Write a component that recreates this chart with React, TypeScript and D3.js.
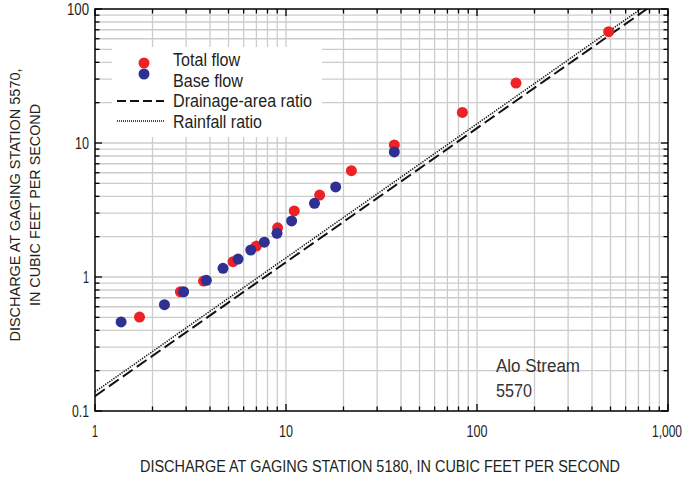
import { scaleLog, line as d3_line } from "d3";

// discharge at station 5180 (x) vs station 5570 (y), cubic feet per second
const totalFlowX = [1.71, 2.8, 3.7, 5.28, 6.99, 9.04, 11.05, 15.0, 22.0, 36.9, 83.8, 160, 489];
const totalFlowY = [0.502, 0.776, 0.933, 1.3, 1.7, 2.33, 3.11, 4.09, 6.21, 9.66, 16.9, 28.0, 67.7];
const baseFlowX = [1.37, 2.31, 2.91, 3.83, 4.68, 5.61, 6.54, 7.7, 8.97, 10.7, 14.1, 18.2, 36.9];
const baseFlowY = [0.462, 0.621, 0.776, 0.945, 1.16, 1.36, 1.59, 1.82, 2.12, 2.62, 3.55, 4.7, 8.57];

const drainageAreaRatio = 0.129;
const rainfallRatio = 0.139;

const xTickValues = [1, 10, 100, 1000];
const xTickLabels = ["1", "10", "100", "1,000"];
const yTickValues = [0.1, 1, 10, 100];
const yTickLabels = ["0.1", "1", "10", "100"];
const legendLabels = ["Total flow", "Base flow", "Drainage-area ratio", "Rainfall ratio"];

const FONT = "'Liberation Sans', Arial, sans-serif";
const RED = "#ec2227";
const BLUE = "#2e3192";
const GRID = "#cccccc";
const INK = "#231f20";

// the source uses a condensed face; squeeze the regular one to the widths
const legendWidths = [67, 70, 139, 89];
const xLabelWidths = [6, 14, 21, 30];
const yLabelWidths = [17, 6, 14, 22];

export default function App() {
  const width = 685;
  const height = 482;
  const m = { left: 95, right: 668, top: 9, bottom: 411 };

  const x = scaleLog().domain([1, 1000]).range([m.left, m.right]);
  const y = scaleLog().domain([0.1, 100]).range([m.bottom, m.top]);

  const isMajor = (v: number) => Math.abs(Math.log10(v) - Math.round(Math.log10(v))) < 1e-9;
  const xTicks = x.ticks();
  const yTicks = y.ticks();

  const ratioLine = (k: number) =>
    d3_line<number>()
      .x((d) => x(d))
      .y((d) => y(d * k))([1, 1000]) ?? "";

  const totalFlow = totalFlowX.map((v, i) => [v, totalFlowY[i]]);
  const baseFlow = baseFlowX.map((v, i) => [v, baseFlowY[i]]);

  return (
    <svg
      width={width}
      height={height}
      style={{ position: "absolute", left: 0, top: 0, background: "#fff" }}
      fontFamily={FONT}
    >
      <defs>
        <clipPath id="plot">
          <rect x={m.left} y={m.top} width={m.right - m.left} height={m.bottom - m.top} />
        </clipPath>
      </defs>

      {/* grid */}
      {xTicks
        .filter((t) => t > 1 && t < 1000)
        .map((t, i) => (
          <line key={"gx" + i} x1={x(t)} x2={x(t)} y1={m.top} y2={m.bottom} stroke={GRID} strokeWidth={1.3} />
        ))}
      {yTicks
        .filter((t) => t > 0.1 && t < 100)
        .map((t, i) => (
          <line key={"gy" + i} x1={m.left} x2={m.right} y1={y(t)} y2={y(t)} stroke={GRID} strokeWidth={1.3} />
        ))}

      {/* legend box */}
      <rect x={112} y={47} width={210} height={90} fill="#fff" />

      {/* ratio lines */}
      <g clipPath="url(#plot)">
        <path d={ratioLine(drainageAreaRatio)} fill="none" stroke="#111" strokeWidth={2} strokeDasharray="12,5" />
        <path d={ratioLine(rainfallRatio)} fill="none" stroke="#111" strokeWidth={1.5} strokeDasharray="1.3,1.2" />
      </g>

      {/* points */}
      {totalFlow.map(([a, b], i) => (
        <circle key={"t" + i} cx={x(a)} cy={y(b)} r={5.5} fill={RED} />
      ))}
      {baseFlow.map(([a, b], i) => (
        <circle key={"b" + i} cx={x(a)} cy={y(b)} r={5.5} fill={BLUE} />
      ))}

      {/* ticks, inward on all four sides */}
      {xTicks.map((t, i) => {
        const len = isMajor(t) ? 7 : 4.5;
        return (
          <g key={"tx" + i} stroke="#000" strokeWidth={1.3}>
            <line x1={x(t)} x2={x(t)} y1={m.bottom} y2={m.bottom - len} />
            <line x1={x(t)} x2={x(t)} y1={m.top} y2={m.top + len} />
          </g>
        );
      })}
      {yTicks.map((t, i) => {
        const len = isMajor(t) ? 7 : 4.5;
        return (
          <g key={"ty" + i} stroke="#000" strokeWidth={1.3}>
            <line x1={m.left} x2={m.left + len} y1={y(t)} y2={y(t)} />
            <line x1={m.right} x2={m.right - len} y1={y(t)} y2={y(t)} />
          </g>
        );
      })}
      <rect
        x={m.left}
        y={m.top}
        width={m.right - m.left}
        height={m.bottom - m.top}
        fill="none"
        stroke="#000"
        strokeWidth={1.5}
      />

      {/* tick labels */}
      {xTickValues.map((t, i) => (
        <text
          key={"lx" + i}
          x={i === 3 ? x(t) - 1 : x(t)}
          y={437}
          textAnchor="middle"
          fontSize={16.5}
          fill={INK}
          textLength={xLabelWidths[i]}
          lengthAdjust="spacingAndGlyphs"
        >
          {xTickLabels[i]}
        </text>
      ))}
      {yTickValues.map((t, i) => (
        <text
          key={"ly" + i}
          x={89}
          y={y(t)}
          dy="0.36em"
          textAnchor="end"
          fontSize={16.5}
          fill={INK}
          textLength={yLabelWidths[i]}
          lengthAdjust="spacingAndGlyphs"
        >
          {yTickLabels[i]}
        </text>
      ))}

      {/* axis titles */}
      <text
        x={380}
        y={472}
        textAnchor="middle"
        fontSize={16}
        fill={INK}
        textLength={480}
        lengthAdjust="spacingAndGlyphs"
      >
        DISCHARGE AT GAGING STATION 5180, IN CUBIC FEET PER SECOND
      </text>
      <g transform="translate(0,205) rotate(-90)" fill={INK} fontSize={15.5} textAnchor="middle">
        <text x={0} y={20} textLength={273} lengthAdjust="spacingAndGlyphs">
          DISCHARGE AT GAGING STATION 5570,
        </text>
        <text x={0} y={40} textLength={202} lengthAdjust="spacingAndGlyphs">
          IN CUBIC FEET PER SECOND
        </text>
      </g>

      {/* legend */}
      <circle cx={144} cy={63} r={5.5} fill={RED} />
      <circle cx={144} cy={74} r={5.5} fill={BLUE} />
      <line x1={117} x2={164} y1={101} y2={101} stroke="#111" strokeWidth={2} strokeDasharray="9,4" />
      <line x1={117} x2={164} y1={121} y2={121} stroke="#111" strokeWidth={1.3} strokeDasharray="1,1" />
      {legendLabels.map((s, i) => (
        <text
          key={"lg" + i}
          x={173}
          y={66 + i * 20.5}
          fontSize={17.5}
          fill={INK}
          textLength={legendWidths[i]}
          lengthAdjust="spacingAndGlyphs"
        >
          {s}
        </text>
      ))}

      {/* station label */}
      <text x={496} y={372} fontSize={18} fill="#333" textLength={84} lengthAdjust="spacingAndGlyphs">
        Alo Stream
      </text>
      <text x={496} y={397} fontSize={18} fill="#333" textLength={36} lengthAdjust="spacingAndGlyphs">
        5570
      </text>
    </svg>
  );
}
